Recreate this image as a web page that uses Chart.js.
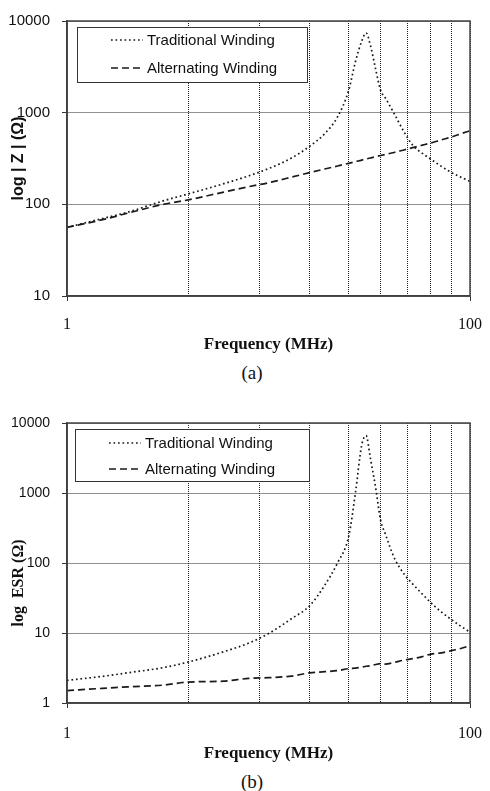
<!DOCTYPE html>
<html><head><meta charset="utf-8">
<script src="https://cdn.jsdelivr.net/npm/chart.js@4.4.1/dist/chart.umd.min.js"></script>
<style>
html,body{margin:0;padding:0;background:#fff;width:490px;height:791px;overflow:hidden;}
canvas{position:absolute;left:0;display:block;}
.cap{position:absolute;left:0;width:504px;text-align:center;font-family:"Liberation Serif","Times New Roman",serif;font-size:19px;color:#111;line-height:20px;}
</style></head><body>
<canvas id="ca" width="490" height="355" style="top:0"></canvas>
<div class="cap" style="top:363px">(a)</div>
<canvas id="cb" width="490" height="364" style="top:400px"></canvas>
<div class="cap" style="top:772px">(b)</div>
<script>
// ---- data (frequency in MHz) ----
const freq = [1,1.5,2,3,4,6,8,10,13,16,19,22,25,27,29,30.5,32,34,36,38,42,47,52,58,64,72,81,90,100];
// (a) |Z| in ohms
const tradZ = [56,70,82,109,130,168,205,245,320,430,590,900,1750,3600,6000,7400,5500,3000,1750,1450,980,620,440,360,310,260,222,198,178];
const altZ  = [56,68,80,100,112,136,156,172,198,222,243,262,280,292,304,312,320,332,341,350,368,392,415,442,468,505,543,588,635];
// (b) ESR in ohms
const tradESR = [2.1,2.4,2.7,3.2,3.85,5.4,7.2,9.8,16,24.5,48,100,240,1000,4800,6600,3200,1200,410,260,120,70,50,36,27,20,15.5,12.5,10.3];
const altESR  = [1.5,1.62,1.7,1.8,1.99,2.05,2.25,2.3,2.42,2.7,2.8,2.9,3.1,3.15,3.25,3.35,3.4,3.55,3.65,3.6,3.8,4.1,4.3,4.6,5.0,5.2,5.6,6.0,6.6];
// axis ticks / grid
const xGridValues = [1,4,9,16,25,36,49,64,81,100];
const xLabelValues = [1,100];
const yTicksA = [10,100,1000,10000];
const yTicksB = [1,10,100,1000,10000];
const seriesNames = ['Traditional Winding','Alternating Winding'];

const boxPlugin = {
  id:'plotBox',
  afterDraw(chart){
    const {ctx, chartArea:a} = chart;
    ctx.save(); ctx.strokeStyle='#444'; ctx.lineWidth=1.5; ctx.setLineDash([]);
    ctx.strokeRect(a.left, a.top, a.right-a.left, a.bottom-a.top);
    ctx.restore();
  }
};
const legendPlugin = {
  id:'boxLegend',
  afterDraw(chart, args, opts){
    const {ctx, chartArea:a} = chart;
    const x0 = a.left + opts.dx, y0 = a.top + opts.dy;
    ctx.save();
    ctx.fillStyle='#fff'; ctx.fillRect(x0, y0, opts.w, opts.h);
    ctx.strokeStyle='#333'; ctx.lineWidth=1; ctx.strokeRect(x0+0.5, y0+0.5, opts.w, opts.h);
    chart.data.datasets.forEach((ds,i)=>{
      const y = y0 + opts.rows[i];
      ctx.setLineDash(ds.borderDash || []); ctx.lineWidth = ds.borderWidth; ctx.strokeStyle = ds.borderColor;
      ctx.beginPath(); ctx.moveTo(x0+34, y); ctx.lineTo(x0+66, y); ctx.stroke();
      ctx.setLineDash([]);
      ctx.fillStyle='#111'; ctx.font='15px "Liberation Sans", Arial, sans-serif'; ctx.textBaseline='middle'; ctx.textAlign='left';
      ctx.fillText(ds.label, x0+70, y+1);
    });
    ctx.restore();
  }
};

function makeChart(id, trad, alt, yTicks, yTitle, yTitleFont, cfg){
  return new Chart(document.getElementById(id), {
    type:'line',
    data:{ datasets:[
      { label:seriesNames[0], data:freq.map((f,i)=>({x:f,y:trad[i]})), borderColor:'#1a1a1a', borderWidth:1.7, borderDash:[1.7,2.8], pointRadius:0, cubicInterpolationMode:'monotone', fill:false },
      { label:seriesNames[1], data:freq.map((f,i)=>({x:f,y:alt[i]})), borderColor:'#1a1a1a', borderWidth:1.7, borderDash:[7,4], pointRadius:0, cubicInterpolationMode:'monotone', fill:false }
    ]},
    options:{
      responsive:false, animation:false, events:[],
      layout:{ padding:{ top:cfg.padTop, right:20, left:0, bottom:0 } },
      plugins:{ legend:{display:false}, tooltip:{enabled:false}, boxLegend: cfg.legend },
      scales:{
        x:{ type:'logarithmic', min:1, max:100,
          afterBuildTicks: s => { s.ticks = xGridValues.map(v=>({value:v})); },
          afterFit: s => { s.height = cfg.xH; s.paddingLeft = 0; s.paddingRight = 0; },
          ticks:{ callback:(v)=> xLabelValues.includes(v) ? String(v) : '', autoSkip:false, maxRotation:0,
            font:{family:'"Liberation Serif","Times New Roman",serif', size:16}, color:'#111', padding:cfg.xPad },
          grid:{ color:'#222', lineWidth:1, tickLength:5,
            tickColor: c => (c.tick && xLabelValues.includes(c.tick.value)) ? '#333' : 'rgba(0,0,0,0)' },
          border:{ display:true, color:'#333', width:1.5, dash:[1,1] },
          title:{ display:true, text:'Frequency (MHz)', color:'#111',
            font:{family:'"Liberation Serif","Times New Roman",serif', size:17, weight:'bold'}, padding:{top:2, bottom:0} }
        },
        y:{ type:'logarithmic', min:yTicks[0], max:yTicks[yTicks.length-1],
          afterBuildTicks: s => { s.ticks = yTicks.map(v=>({value:v})); },
          afterFit: s => { s.width = 67; },
          ticks:{ callback:(v)=> String(v), font:{family:'"Liberation Sans",Arial,sans-serif', size:cfg.yFont}, color:'#111', padding:12 },
          grid:{ color:'#222', lineWidth:1, tickLength:5, tickColor:'#333' },
          border:{ display:true, color:'#333', width:1.5, dash:[1,1] },
          title:{ display:true, text:yTitle, color:'#111', font:yTitleFont, padding:{top:9, bottom:0} }
        }
      }
    },
    plugins:[boxPlugin, legendPlugin]
  });
}

makeChart('ca', tradZ, altZ, yTicksA, 'log | Z | (Ω)',
  {family:'"Liberation Sans",Arial,sans-serif', size:16, weight:'bold'},
  { padTop:16, xH:59, xPad:14, yFont:15, legend:{dx:10, dy:6, w:230, h:55, rows:[13,41]} });
makeChart('cb', tradESR, altESR, yTicksB, 'log  ESR (Ω)          ',
  {family:'"Liberation Serif","Times New Roman",serif', size:16, weight:'bold'},
  { padTop:23, xH:61, xPad:16, yFont:14, legend:{dx:8, dy:6, w:234, h:52, rows:[14,40]} });
</script>
</body></html>
